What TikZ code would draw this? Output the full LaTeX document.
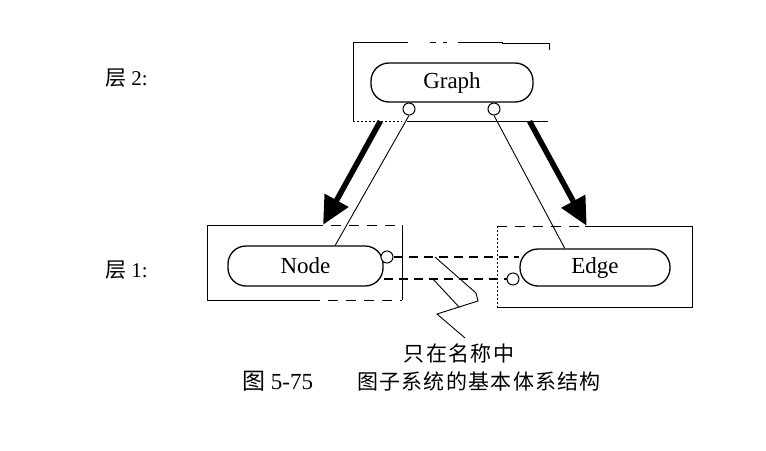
\documentclass[tikz,border=0pt]{standalone}
\usepackage{fontspec}
\setmainfont{Liberation Serif}
\newfontfamily\cjk{Noto Sans CJK SC}
\newfontfamily\cjksp[LetterSpace=6]{Noto Sans CJK SC}
\usetikzlibrary{arrows.meta,calc}
\begin{document}
\begin{tikzpicture}[x=1pt,y=-1pt,
  pill/.style={draw, line width=1.3pt, rounded corners=18pt, inner sep=0pt,
    font=\fontsize{23}{23}\selectfont},
  port/.style={draw, circle, fill=white, line width=1pt, minimum size=12pt, inner sep=0pt},
  frame/.style={line width=1pt},
  dotframe/.style={line width=1pt, dash pattern=on 2pt off 2pt},
  dashframe/.style={line width=1pt, dash pattern=on 10pt off 8pt},
  bigarrow/.style={line width=5.5pt, -{Triangle[length=28pt,width=26pt]}},
  nameline/.style={line width=1.1pt, dash pattern=on 9pt off 6pt},
  thin/.style={line width=0.9pt},
  lab/.style={inner sep=0pt, anchor=west, font=\fontsize{21}{21}\selectfont},
  box/.style={draw=none, inner sep=0pt}]
\useasboundingbox (0,0) rectangle (766,450);

% outer frames (invisible nodes used as anchors)
\node[box, minimum width=196pt, minimum height=79pt] (gbox) at (451,81.5) {};
\node[box, minimum width=195pt, minimum height=75pt] (nbox) at (304.5,262.5) {};
\node[box, minimum width=195pt, minimum height=81pt] (ebox) at (594.5,266.5) {};

% Graph frame
\draw[frame] (353,121) -- (353,42) -- (408,42);
\draw[frame] (430,42) -- (436,42) (443,42) -- (447,42);
\draw[frame] (458,42) -- (502,42) -- (502,43) -- (549,43) -- (549,50);
\draw[dotframe] (353,121) -- (402,121);
\draw[frame] (407,121) -- (548,121);

% Node frame
\draw[frame] (313,225) -- (207,225) -- (207,300) -- (310,300);
\draw[dashframe] (313,225) -- (402,225);
\draw[dashframe] (310,300) -- (402,300);
\draw[frame] (402,225) -- (402,300);

% Edge frame
\draw[dotframe] (497,226) -- (497,307);
\draw[dashframe] (497,226) -- (585,226);
\draw[frame] (585,226) -- (692,226) -- (692,307) -- (497,307);

% pills
\node[pill, minimum width=162pt, minimum height=39pt] (gp) at (452,82.5) {Graph};
\node[pill, minimum width=155pt, minimum height=40pt] (np) at (305.5,266) {Node};
\node[pill, minimum width=150pt, minimum height=37pt] (ep) at (595,267.5) {Edge};

% ports
\node[port] (gc1) at (409,109) {};
\node[port] (gc2) at (494,109) {};
\node[port] (nc) at (387,257) {};
\node[port] (ec) at (513,279) {};

% thin links from Graph ports
\draw[thin] (gc1.south) -- ($(np.north west)!0.69!(np.north east)$);
\draw[thin] (gc2.south) -- ($(ep.north west)!0.30!(ep.north east)$);

% big arrows
\draw[bigarrow] ($(gbox.south west)!0.14!(gbox.south east)$) -- ($(nbox.north west)!0.595!(nbox.north east)$);
\draw[bigarrow] ($(gbox.south west)!0.90!(gbox.south east)$) -- ($(ebox.north west)!0.46!(ebox.north east)$);

% name-only links
\draw[nameline] (nc.east) -- (nc.east -| ep.west);
\draw[nameline, line width=1.6pt] (ec.west -| np.east) -- (ec.west);

% callout
\coordinate (c1) at (435,257);
\coordinate (c2) at (432,278);
\coordinate (cj) at (459,307);
\draw[thin] (c1) -- (476,293) -- (478,301) -- (cj);
\draw[thin] (c2) -- (cj) -- (437,314) -- (465,338);
\node[inner sep=0pt, font=\cjksp\fontsize{21}{21}\selectfont] (note) at (459,354) {只在名称中};

% level labels
\node[lab] (lab2) at (105,78) {{\cjk 层} 2:};
\node[lab] (lab1) at (105,270) {{\cjk 层} 1:};

% caption
\node[lab, font=\fontsize{23}{23}\selectfont] (cap1) at (242,381) {{\cjk 图} 5-75};
\node[lab, font=\cjksp\fontsize{21}{21}\selectfont] (cap2) at (357,381) {图子系统的基本体系结构};
\end{tikzpicture}
\end{document}
